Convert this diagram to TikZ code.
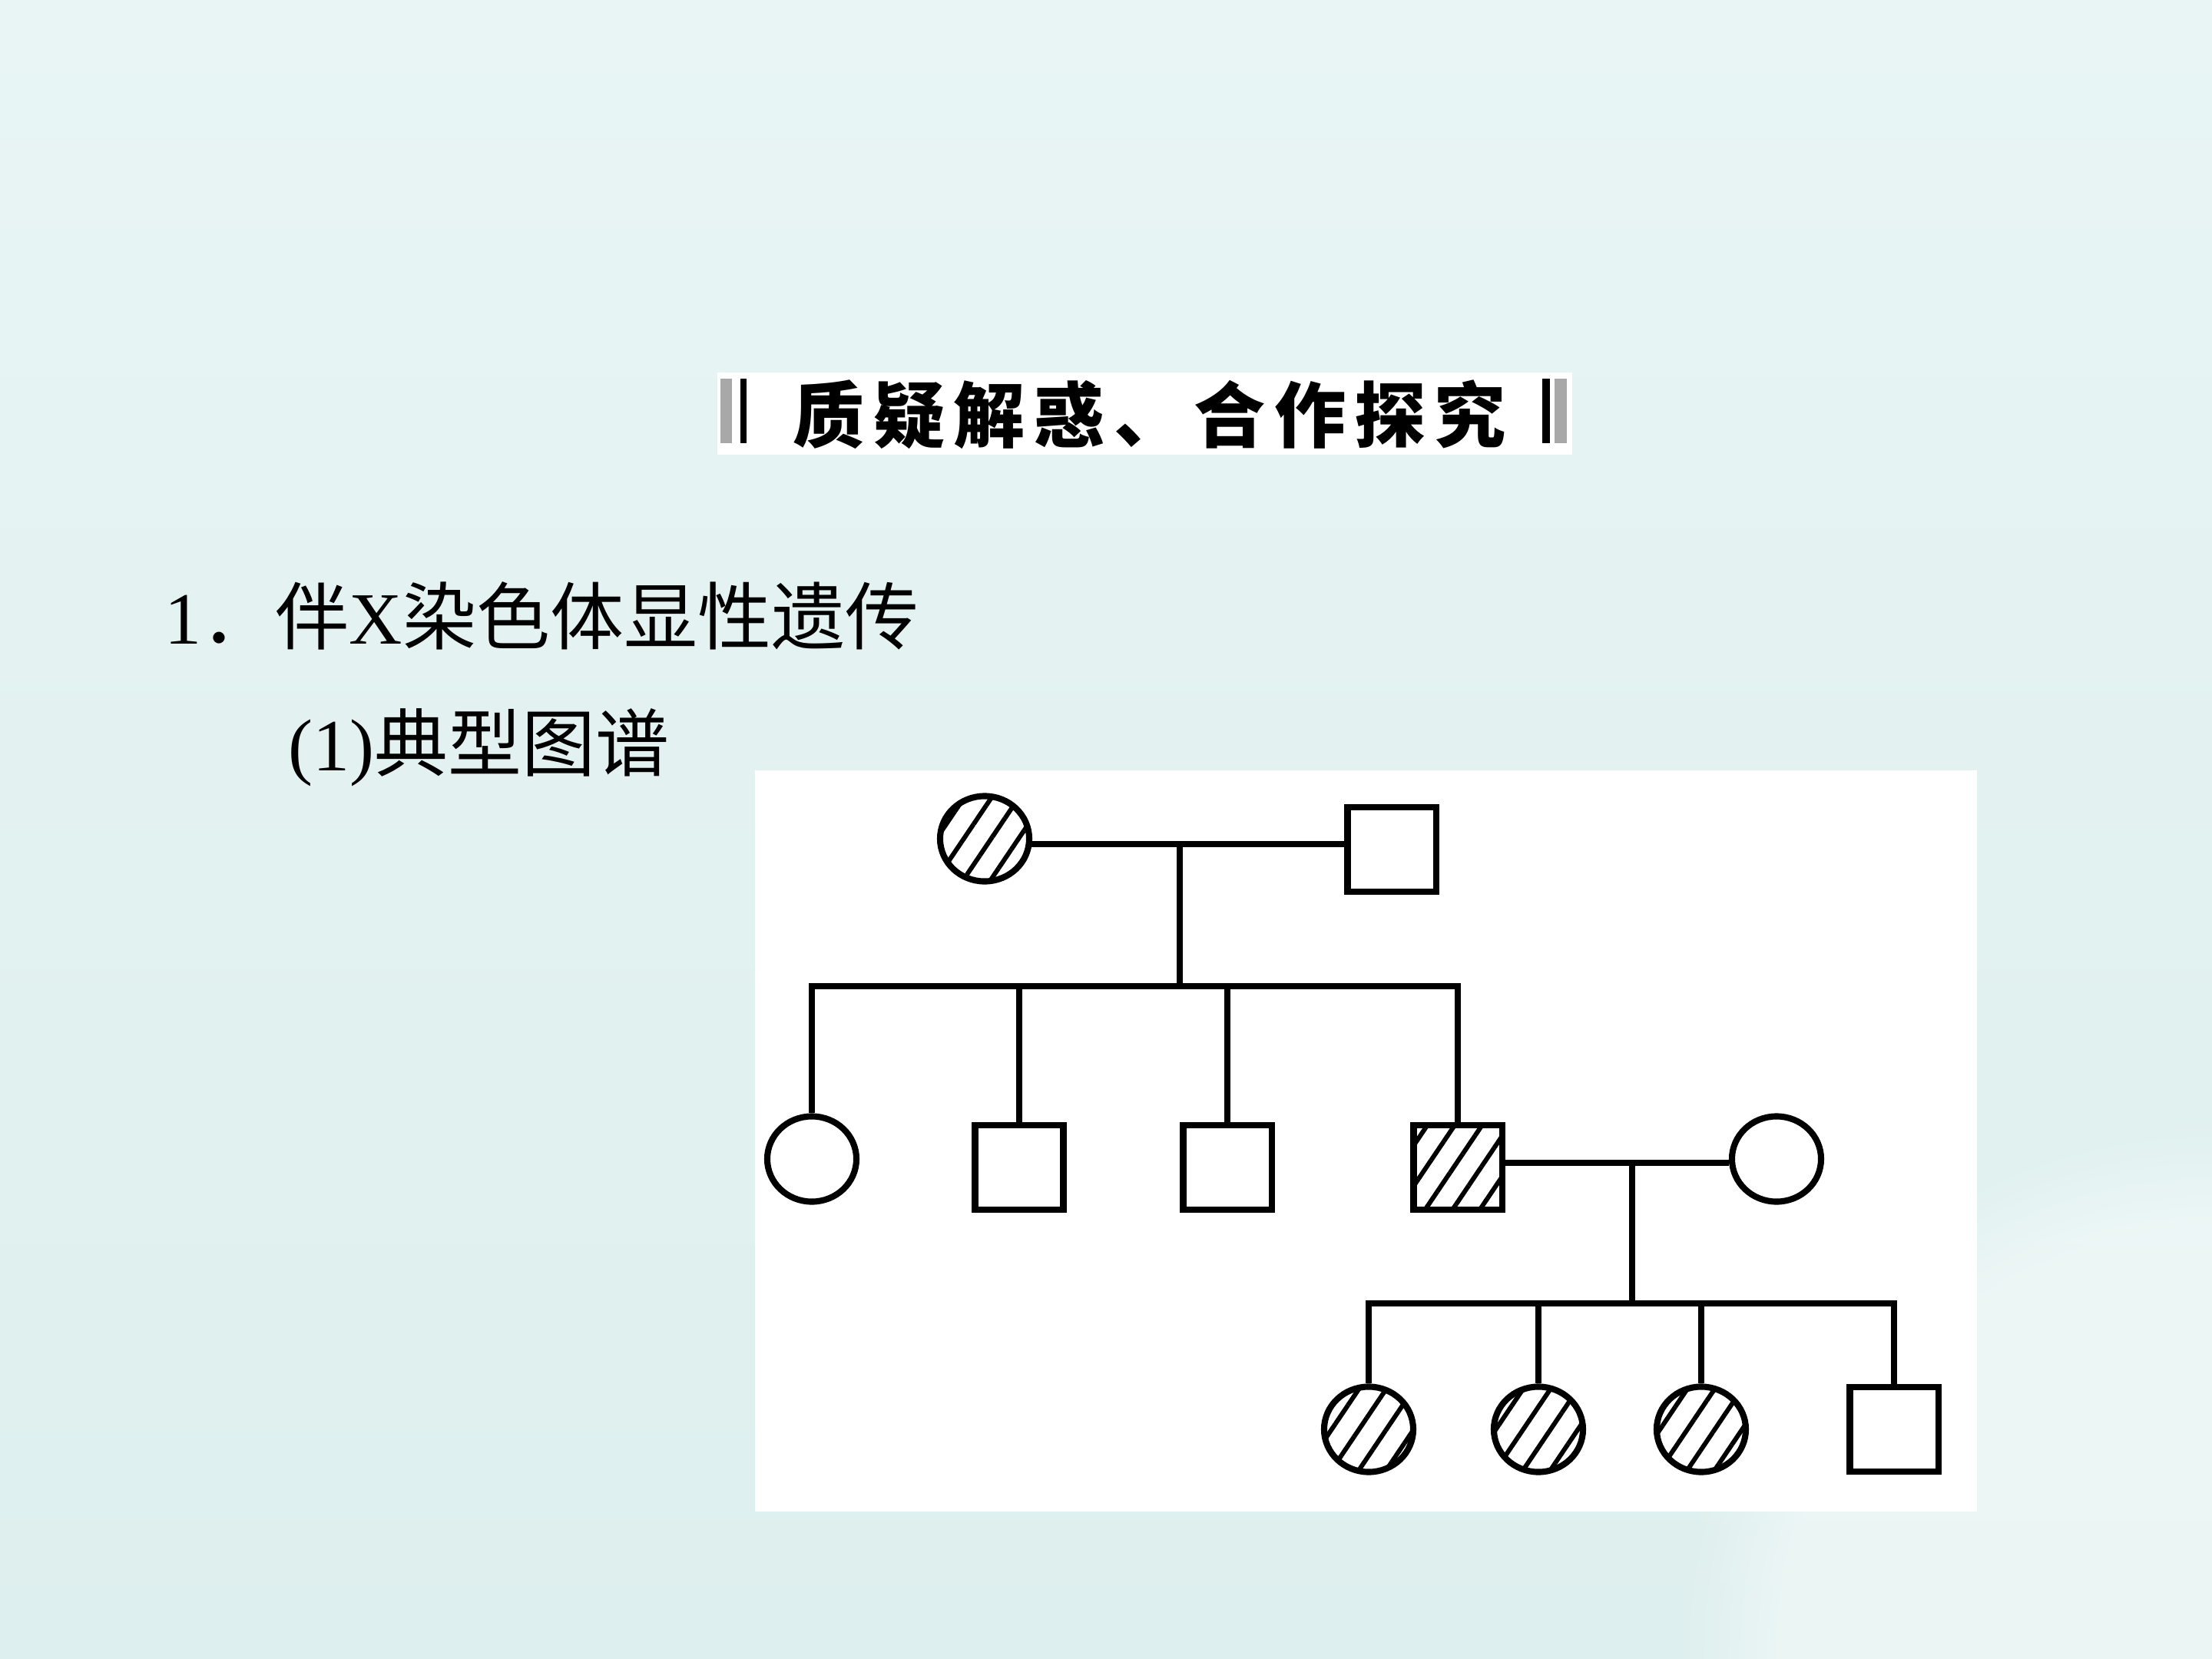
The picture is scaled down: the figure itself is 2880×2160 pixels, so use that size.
\documentclass[tikz,border=0pt]{standalone}
\usepackage{fontspec}
\setmainfont{Liberation Serif}
\newfontfamily\cjk{Noto Sans CJK SC}
\newfontfamily\cjkbold{Noto Sans CJK SC}[LetterSpace=12]
\usetikzlibrary{shapes.geometric,patterns.meta,fadings}
\definecolor{bgtop}{RGB}{232,245,244}
\definecolor{bgbot}{RGB}{221,239,238}
\definecolor{barg}{RGB}{168,168,168}
\tikzset{
  female/.style={draw, ellipse, line width=2.3pt, inner sep=0pt, minimum width=1.16cm, minimum height=1.11cm},
  male/.style={draw, rectangle, line width=2.3pt, inner sep=0pt, minimum width=1.15cm, minimum height=1.10cm},
  sick/.style={pattern={Lines[angle=56,distance=8.4pt,line width=1.7pt]}},
  pedline/.style={line width=2.3pt},
  titletext/.style={inner sep=0pt, anchor=base west, font=\fontsize{27.3}{32}\selectfont}
}
\begin{document}
\begin{tikzpicture}[x=0.01cm,y=-0.01cm]
\useasboundingbox (0,0) rectangle (2880,2160);
% background
\shade[top color=bgtop, bottom color=bgbot] (0,0) rectangle (2880,2160);
\fill[white, opacity=0.4, path fading=circle with fuzzy edge 20 percent] (2880,2160) circle (700);
% banner
\fill[white] (934,485) rectangle (2047,592);
\fill[barg] (938,493) rectangle (953,577);
\fill[black] (964,493) rectangle (972,577);
\fill[black] (2008,493) rectangle (2018,577);
\fill[barg] (2024,493) rectangle (2040,577);
\node[inner sep=0pt, font=\cjkbold\bfseries\fontsize{26.5}{32}\selectfont] (banner) at (1497,540) {质疑解惑、合作探究};
% headings
\node[titletext] (head) at (214,838) {1{\cjk ．伴}X{\cjk 染色体显性遗传}};
\node[titletext] (sub) at (375,1003) {(1){\cjk 典型图谱}};
% pedigree
\fill[white] (983,1003) rectangle (2574,1968);
\node[female,sick] (I1) at (1282,1092) {};
\node[male] (I2) at (1812,1106) {};
\node[female] (II1) at (1057,1509) {};
\node[male] (II2) at (1327,1520) {};
\node[male] (II3) at (1598,1520) {};
\node[male,sick] (II4) at (1898,1520) {};
\node[female] (II5) at (2313,1509) {};
\node[female,sick] (III1) at (1782,1861) {};
\node[female,sick] (III2) at (2003,1861) {};
\node[female,sick] (III3) at (2215,1861) {};
\node[male] (III4) at (2466,1861) {};
\coordinate (m1) at (1536,1099);
\coordinate (s1) at (1536,1284);
\coordinate (m2) at (2125,1514);
\coordinate (s2) at (2125,1697);
\draw[pedline] (m1 -| I1.east) -- (m1 -| I2.west);
\draw[pedline] (m1) -- (s1);
\draw[pedline] (II1.north) |- (s1 -| II4.north) -- (II4.north);
\draw[pedline] (II2.north) -- (II2.north |- s1);
\draw[pedline] (II3.north) -- (II3.north |- s1);
\draw[pedline] (m2 -| II4.east) -- (m2 -| II5.west);
\draw[pedline] (m2) -- (s2);
\draw[pedline] (III1.north) |- (s2 -| III4.north) -- (III4.north);
\draw[pedline] (III2.north) -- (III2.north |- s2);
\draw[pedline] (III3.north) -- (III3.north |- s2);
\end{tikzpicture}
\end{document}
